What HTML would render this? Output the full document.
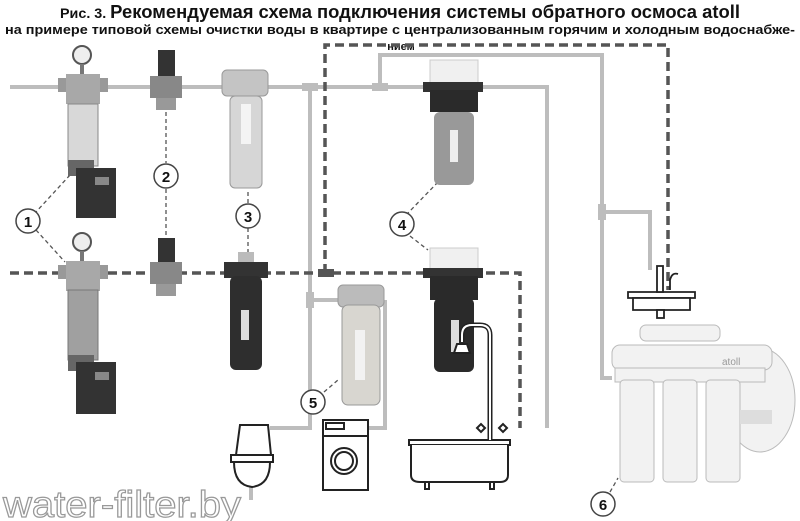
<!DOCTYPE html>
<html><head><meta charset="utf-8"><style>
html,body{margin:0;padding:0;background:#fff;}
svg{display:block}
text{font-family:"Liberation Sans",sans-serif;}
</style></head><body>
<svg width="800" height="521" viewBox="0 0 800 521" xmlns="http://www.w3.org/2000/svg">
<rect width="800" height="521" fill="#fff"/>
<!-- titles -->
<text x="400" y="18" text-anchor="middle" font-size="18" font-weight="bold" fill="#111" textLength="680" lengthAdjust="spacingAndGlyphs"><tspan font-size="14">Рис. 3. </tspan>Рекомендуемая схема подключения системы обратного осмоса atoll</text>
<text x="400" y="34" text-anchor="middle" font-size="13" font-weight="bold" fill="#111" textLength="790" lengthAdjust="spacingAndGlyphs">на примере типовой схемы очистки воды в квартире с централизованным горячим и холодным водоснабже-</text>
<text x="401" y="50" text-anchor="middle" font-size="11" font-weight="bold" fill="#111">нием</text>

<!-- solid gray pipes -->
<g stroke="#bdbdbd" stroke-width="4" fill="none">
<path d="M10 87 H547 V428"/>
<path d="M380 87 V55 H602 V378 H612"/>
<path d="M602 212 H650 V270"/>
<path d="M310 87 V428 H270"/>
<path d="M310 300 H340"/>
<path d="M385 300 V428 H367"/>
<path d="M251 470 V500"/>
</g>
<g fill="#bdbdbd"><rect x="302" y="83" width="16" height="8"/><rect x="372" y="83" width="16" height="8"/><rect x="598" y="204" width="8" height="16"/><rect x="306" y="292" width="8" height="16"/></g>
<!-- dashed pipes -->
<g stroke="#555" stroke-width="3.5" fill="none" stroke-dasharray="9 5">
<path d="M10 273 H520 V428"/>
<path d="M325 273 V45 H668 V290"/>
</g>
<rect x="318" y="269" width="16" height="8" fill="#555"/>

<!-- leader dashed lines -->
<g stroke="#555" stroke-width="1.3" fill="none" stroke-dasharray="4 3">
<path d="M70 175 L36 212 M36 230 L65 262"/>
<path d="M166 112 V163 M166 189 V238"/>
<path d="M248 192 V204 M248 228 V255"/>
<path d="M438 182 L408 213 M410 236 L428 250"/>
<path d="M324 392 L338 380"/>
<path d="M610 492 L618 478"/>
</g>
<g font-size="15" font-weight="bold" text-anchor="middle" fill="#111">
<circle cx="28" cy="221" r="12" fill="#fff" stroke="#444" stroke-width="1.5"/><text x="28" y="227">1</text>
<circle cx="166" cy="176" r="12" fill="#fff" stroke="#444" stroke-width="1.5"/><text x="166" y="182">2</text>
<circle cx="248" cy="216" r="12" fill="#fff" stroke="#444" stroke-width="1.5"/><text x="248" y="222">3</text>
<circle cx="402" cy="224" r="12" fill="#fff" stroke="#444" stroke-width="1.5"/><text x="402" y="230">4</text>
<circle cx="313" cy="402" r="12" fill="#fff" stroke="#444" stroke-width="1.5"/><text x="313" y="408">5</text>
<circle cx="603" cy="504" r="12" fill="#fff" stroke="#444" stroke-width="1.5"/><text x="603" y="510">6</text>
</g>

<!-- filter 1 top -->
<circle cx="82" cy="55" r="9" fill="#eee" stroke="#555" stroke-width="2"/><rect x="80" y="64" width="4" height="10" fill="#777"/>
<rect x="58" y="78" width="50" height="14" fill="#999"/>
<rect x="66" y="74" width="34" height="30" fill="#a8a8a8"/>
<rect x="68" y="104" width="30" height="62" fill="#d8d8d8" stroke="#888"/>
<rect x="68" y="160" width="26" height="16" fill="#666"/>
<rect x="76" y="168" width="40" height="50" fill="#333"/>
<rect x="95" y="177" width="14" height="8" fill="#888"/>
<!-- filter 1 bottom -->
<circle cx="82" cy="242" r="9" fill="#eee" stroke="#555" stroke-width="2"/><rect x="80" y="251" width="4" height="10" fill="#777"/>
<rect x="58" y="265" width="50" height="14" fill="#999"/>
<rect x="66" y="261" width="34" height="30" fill="#a8a8a8"/>
<rect x="68" y="290" width="30" height="70" fill="#a0a0a0" stroke="#777"/>
<rect x="68" y="355" width="26" height="16" fill="#666"/>
<rect x="76" y="362" width="40" height="52" fill="#333"/>
<rect x="95" y="372" width="14" height="8" fill="#888"/>
<!-- regulator 2 -->
<rect x="158" y="50" width="17" height="26" fill="#333"/>
<rect x="150" y="76" width="32" height="22" fill="#888"/>
<rect x="156" y="98" width="20" height="12" fill="#999"/>
<rect x="158" y="238" width="17" height="26" fill="#333"/>
<rect x="150" y="262" width="32" height="22" fill="#888"/>
<rect x="156" y="284" width="20" height="12" fill="#999"/>
<!-- filter 3 -->
<rect x="222" y="70" width="46" height="26" rx="5" fill="#c4c4c4" stroke="#999"/>
<rect x="230" y="96" width="32" height="92" rx="5" fill="#d6d6d6" stroke="#999"/>
<rect x="241" y="104" width="10" height="40" fill="#f4f4f4"/>
<rect x="238" y="252" width="16" height="12" fill="#bbb"/>
<rect x="224" y="262" width="44" height="16" fill="#333"/>
<rect x="230" y="276" width="32" height="94" rx="6" fill="#2e2e2e"/>
<rect x="241" y="310" width="8" height="30" fill="#ddd"/>
<!-- filter 4 top -->
<rect x="430" y="60" width="48" height="24" fill="#f0f0f0" stroke="#ccc"/>
<rect x="423" y="82" width="60" height="10" fill="#333"/>
<rect x="430" y="90" width="48" height="22" fill="#2a2a2a"/>
<rect x="434" y="112" width="40" height="73" rx="6" fill="#999"/>
<rect x="450" y="130" width="8" height="32" fill="#eee"/>
<!-- filter 4 bottom -->
<rect x="430" y="248" width="48" height="22" fill="#f0f0f0" stroke="#ccc"/>
<rect x="423" y="268" width="60" height="10" fill="#333"/>
<rect x="430" y="276" width="48" height="24" fill="#2a2a2a"/>
<rect x="434" y="298" width="40" height="74" rx="6" fill="#2a2a2a"/>
<rect x="451" y="320" width="8" height="32" fill="#ddd"/>
<!-- filter 5 -->
<rect x="338" y="285" width="46" height="22" rx="5" fill="#bbb" stroke="#999"/>
<rect x="342" y="305" width="38" height="100" rx="6" fill="#d8d6d0" stroke="#999"/>
<rect x="355" y="330" width="10" height="50" fill="#f2f2f2"/>

<!-- toilet -->
<g stroke="#222" stroke-width="2" fill="#fff">
<path d="M240 425 H268 L271 455 H236 Z"/>
<rect x="231" y="455" width="42" height="7"/>
<path d="M234 462 H270 Q270 485 252 487 Q234 485 234 462 Z"/>
</g>
<!-- washer -->
<g stroke="#222" stroke-width="2" fill="#fff">
<rect x="323" y="420" width="45" height="70"/>
<line x1="323" y1="436" x2="368" y2="436"/>
<rect x="326" y="423" width="18" height="6"/>
<circle cx="344" cy="461" r="13"/>
<circle cx="344" cy="461" r="9"/>
</g>
<!-- bath -->
<g stroke="#222" stroke-width="2" fill="#fff">
<rect x="409" y="440" width="101" height="5"/>
<path d="M411 445 V475 Q411 482 420 482 H500 Q508 482 508 475 V445"/>
<rect x="425" y="482" width="4" height="7"/><rect x="490" y="482" width="4" height="7"/>
<path d="M490 440 V335 Q490 325 480 325 H472 Q462 325 462 335 V342" fill="none" stroke-width="5"/>
<path d="M490 440 V335 Q490 325 480 325 H472 Q462 325 462 335 V342" fill="none" stroke="#fff" stroke-width="2"/>
<path d="M457 344 H467 L470 353 H454 Z"/>
<path d="M477 428 l4 -4 l4 4 l-4 4 z"/><path d="M499 428 l4 -4 l4 4 l-4 4 z"/>
</g>
<!-- RO sink and faucet -->
<g stroke="#222" stroke-width="1.8" fill="#fff">
<path d="M628 292 H695 V298 H628 Z"/>
<path d="M633 298 H690 V310 H633 Z"/>
<rect x="657" y="266" width="6" height="26"/>
<path d="M670 290 V280 Q672 272 678 274" fill="none"/>
<rect x="657" y="310" width="7" height="8"/>
</g>
<!-- RO system -->
<g fill="#f2f2f2" stroke="#bbb" stroke-width="1">
<ellipse cx="760" cy="400" rx="35" ry="52"/>
<rect x="640" y="325" width="80" height="16" rx="6"/>
<rect x="612" y="345" width="160" height="25" rx="8"/>
<rect x="615" y="368" width="150" height="14"/>
<rect x="620" y="380" width="34" height="102" rx="4"/>
<rect x="663" y="380" width="34" height="102" rx="4"/>
<rect x="706" y="380" width="34" height="102" rx="4"/>
</g>
<rect x="740" y="410" width="32" height="14" fill="#ddd"/>
<text x="722" y="365" font-size="10" fill="#999">atoll</text>

<!-- watermark -->
<text x="3" y="517" font-size="37" fill="#fff" stroke="#999" stroke-width="1.2" textLength="238" lengthAdjust="spacingAndGlyphs">water-filter.by</text>
</svg>
</body></html>
